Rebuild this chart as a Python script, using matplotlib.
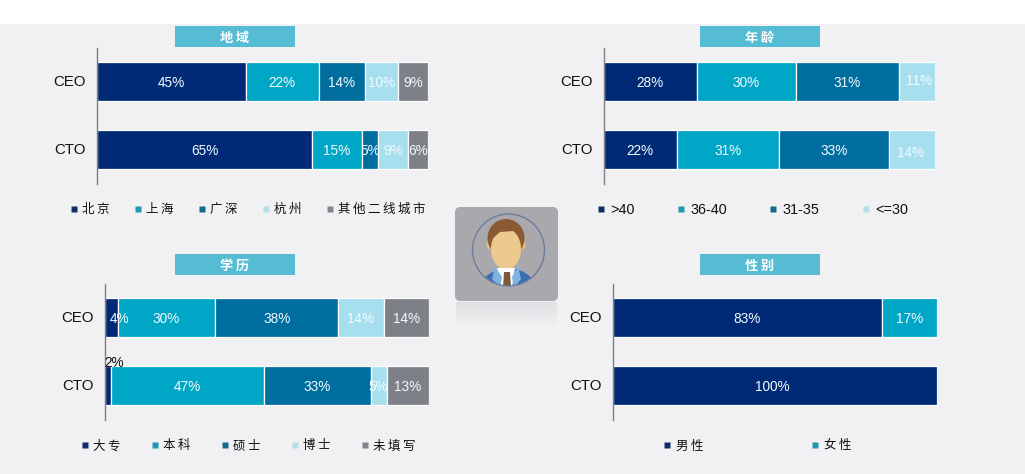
import numpy as np
import matplotlib
matplotlib.use("Agg")
import matplotlib.pyplot as plt
from matplotlib.font_manager import FontProperties
from matplotlib.lines import Line2D
from matplotlib.patches import Circle, Ellipse, FancyBboxPatch, Polygon, Rectangle
from matplotlib.transforms import ScaledTranslation

# ---------- data ----------
roles = ["CEO", "CTO"]

region_names = ["北京", "上海", "广深", "杭州", "其他二线城市"]
region_ceo = [45, 22, 14, 10, 9]
region_cto = [65, 15, 5, 9, 6]

age_names = [">40", "36-40", "31-35", "<=30"]
age_ceo = [28, 30, 31, 11]
age_cto = [22, 31, 33, 14]

edu_names = ["大专", "本科", "硕士", "博士", "未填写"]
edu_ceo = [4, 30, 38, 14, 14]
edu_cto = [2, 47, 33, 5, 13]

gender_names = ["男性", "女性"]
gender_ceo = [83, 17]
gender_cto = [100, 0]

titles = ["地域", "年龄", "学历", "性别"]

# ---------- style ----------
W, H = 1025, 474
BG = "#f1f1f4"
BAR_COLORS = ["#002a76", "#00a6c6", "#006d9f", "#a7dfee", "#7d8087"]
KEY_COLORS = ["#0f2f63", "#2098ae", "#176b87", "#b6dee6", "#85868c"]
LATIN = "Liberation Sans"
CJK = ["Noto Sans CJK SC", "DejaVu Sans"]
THIN = "\u2009"
plt.rcParams["font.family"] = [LATIN, "Noto Sans CJK SC", "DejaVu Sans"]

fig = plt.figure(figsize=(W / 100, H / 100), dpi=100, facecolor="white")


def spaced(s):
    if any(ord(c) > 0x2E80 for c in s):
        return THIN.join(s)
    return s


# ---------- pixel overlay: background, banners, avatar ----------
bg = fig.add_axes([0, 0, 1, 1], zorder=0)
bg.set_xlim(0, W)
bg.set_ylim(H, 0)
bg.axis("off")
bg.add_patch(Rectangle((0, 24), W, H - 24, fc=BG, ec="none"))

banners = [(175, 26), (700, 26), (175, 254), (700, 254)]
for (bx, by), t in zip(banners, titles):
    bg.add_patch(Rectangle((bx, by), 120, 21, fc="#55bcd4", ec="none"))
    bg.text(bx + 60, by + 11.5, spaced(t), ha="center", va="center", color="white",
            fontsize=9.5, fontweight="bold", family=CJK)

# avatar card and its reflection
bg.add_patch(FancyBboxPatch((459, 211), 95, 86, boxstyle="round,pad=0,rounding_size=1",
                            fc="#a9a9ad", ec="#a9a9ad", lw=5.76, joinstyle="round"))
grad = np.zeros((26, 2, 4))
grad[..., :3] = matplotlib.colors.to_rgb("#c8c8cc")
grad[..., 3] = np.linspace(0.4, 0, 26)[:, None]
bg.imshow(grad, extent=(456, 557, 328, 302), aspect="auto", zorder=1, interpolation="bilinear")
bg.set_xlim(0, W)
bg.set_ylim(H, 0)

ring = Circle((508.5, 250), 36, fc="none", ec="#6c7c9c", lw=1, zorder=6)
bg.add_patch(ring)
clip = Circle((508.5, 250), 36, transform=bg.transData)

suit = Ellipse((508, 297), 62, 58, fc="#3c6eb4", ec="none", zorder=3)
bg.add_patch(suit)
suit.set_clip_path(clip)
shirt = Polygon([(497, 268), (515, 268), (512, 288), (501, 288)], fc="white", ec="none", zorder=4)
bg.add_patch(shirt)
shirt.set_clip_path(clip)
for pts, c in [([(495, 266), (502, 277), (500, 288), (492, 279)], "#7fb2e0"),
               ([(518, 266), (512, 277), (514, 288), (521, 279)], "#7fb2e0")]:
    p = Polygon(pts, fc=c, ec="none", zorder=4.5)
    bg.add_patch(p)
    p.set_clip_path(clip)
tie = Polygon([(504, 272), (510, 272), (511, 287), (503, 287)], fc="#7a5a3a", ec="none", zorder=5)
bg.add_patch(tie)
tie.set_clip_path(clip)
bg.add_patch(Rectangle((499, 262), 14, 9, fc="#e6bd84", ec="none", zorder=3.5))
bg.add_patch(Ellipse((489, 245), 5, 9, fc="#e6bd84", ec="none", zorder=3.5))
bg.add_patch(Ellipse((523, 245), 5, 9, fc="#e6bd84", ec="none", zorder=3.5))
bg.add_patch(Ellipse((506, 238), 37, 38, fc="#8a5a33", ec="none", zorder=3.6))
bg.add_patch(Ellipse((506, 249), 30, 41, fc="#eec98e", ec="none", zorder=3.7))
bg.add_patch(Polygon([(491, 240), (494, 226), (512, 224), (522, 240), (514, 231), (500, 232)],
                     fc="#8a5a33", ec="none", zorder=3.8))


# ---------- panels ----------
def panel(left, right, top, bottom, names, ceo, cto, legend_xy, col_gap_px, nudges=None):
    top -= 0.5
    bottom -= 0.5
    ax = fig.add_axes([left / W, (H - bottom) / H, (right - left) / W, (bottom - top) / H], zorder=2)
    ax.patch.set_alpha(0)
    ax.set_xlim(0, 100)
    ax.set_ylim(1.5, -0.5)
    rows = [ceo, cto]
    nudges = nudges or {}
    for r, vals in enumerate(rows):
        base = 0
        for s, v in enumerate(vals):
            ax.barh(r, v, left=base, height=0.56, color=BAR_COLORS[s], edgecolor="white",
                    linewidth=0.9 if v else 0)
            if v:
                dx, dy, col = nudges.get((r, s), (0, 0, "#f2fbff"))
                ax.annotate(f"{v}%", (base + v / 2, r), xytext=(dx * 0.72, -(dy + 1.2) * 0.72),
                            textcoords="offset points", ha="center", va="center",
                            color=col, fontsize=9.8, family=LATIN)
            base += v
    ax.set_yticks(range(len(roles)), roles, fontsize=10.8, color="#111111", family=LATIN)
    ax.set_xticks([])
    ax.tick_params(axis="y", length=0, pad=8.2)
    up = ScaledTranslation(0, 1.5 / 100, fig.dpi_scale_trans)
    for lab in ax.get_yticklabels():
        lab.set_transform(lab.get_transform() + up)
    for side in ("top", "right", "bottom"):
        ax.spines[side].set_visible(False)
    ax.spines["left"].set_color("#808080")
    ax.spines["left"].set_linewidth(1)

    handles = [Line2D([], [], ls="none", marker="s", ms=4.6, mfc=KEY_COLORS[i], mec="none",
                      label=spaced(n)) for i, n in enumerate(names)]
    is_cjk = any(ord(c) > 0x2E80 for c in names[0])
    prop = FontProperties(family=CJK if is_cjk else [LATIN], size=9 if is_cjk else 10.4)
    leg = fig.legend(handles=handles, loc="center", ncol=len(names), prop=prop, frameon=False,
                     bbox_to_anchor=(legend_xy[0] / W, (H - legend_xy[1]) / H),
                     bbox_transform=fig.transFigure, borderpad=0, borderaxespad=0,
                     handlelength=0.7, handletextpad=0.3,
                     columnspacing=col_gap_px * 0.72 / prop.get_size())
    for t in leg.get_texts():
        t.set_color("#111111")
    leg.set_zorder(3)
    return ax


panel(97, 428, 48, 184, region_names, region_ceo, region_cto, (248, 209.5), 24)
panel(604, 935, 48, 184, age_names, age_ceo, age_cto, (752, 210), 41.5,
      nudges={(0, 3): (2, -2, "#f2fbff"), (1, 3): (-1, 2, "#f2fbff")})
panel(105, 429, 284, 420, edu_names, edu_ceo, edu_cto, (248, 446), 30,
      nudges={(0, 0): (8, 0, "#f2fbff"), (1, 0): (6, -24, "#111111")})
panel(613, 937, 284, 420, gender_names, gender_ceo, gender_cto, (757, 446), 108,
      nudges={(1, 0): (-3, 0, "#f2fbff")})

fig.savefig("out.png", dpi=100, facecolor="white")
